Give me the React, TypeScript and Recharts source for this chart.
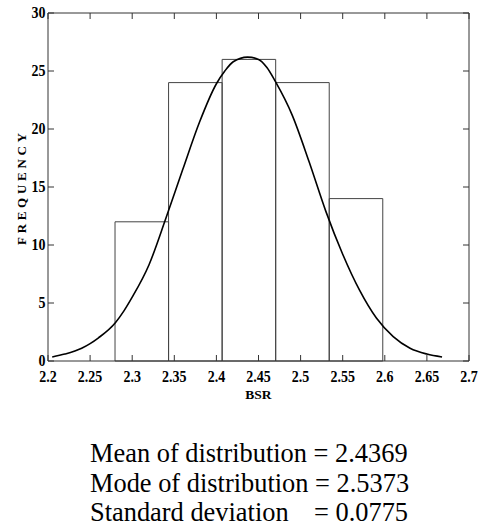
import React from 'react';
import { ComposedChart, Line, XAxis, YAxis, ReferenceArea } from 'recharts';

// Histogram bins (BSR) and frequencies
const binEdges = [2.2796, 2.3432, 2.4068, 2.4704, 2.534, 2.5976];
const frequency = [12, 24, 26, 24, 14];

// Fitted distribution curve
const curveX = [2.205, 2.22, 2.24, 2.25, 2.26, 2.28, 2.29, 2.3, 2.32, 2.34, 2.36, 2.38, 2.4, 2.41, 2.42, 2.437, 2.45, 2.46, 2.47, 2.49, 2.51, 2.53, 2.55, 2.57, 2.59, 2.61, 2.63, 2.65, 2.668];
const curveY = [0.35, 0.6, 1.1, 1.5, 2.0, 3.3, 4.3, 5.5, 8.3, 12.3, 16.5, 20.6, 23.9, 25.0, 25.8, 26.2, 26.0, 25.3, 24.1, 21.2, 17.2, 12.9, 9.2, 6.1, 3.7, 2.1, 1.1, 0.6, 0.35];

const xTicks = [2.2, 2.25, 2.3, 2.35, 2.4, 2.45, 2.5, 2.55, 2.6, 2.65, 2.7];
const yTicks = [0, 5, 10, 15, 20, 25, 30];

const statLabels = ['Mean of distribution', 'Mode of distribution', 'Standard deviation'];
const statValues = ['2.4369', '2.5373', '0.0775'];

const curveData = curveX.map((x, i) => ({ x, y: curveY[i] }));

const serif = '"Liberation Serif", "Times New Roman", serif';
const axisColor = '#333';
const TICK_LEN = 6;
const tickFont = { fontFamily: serif, fontSize: 14, fontWeight: 700 };

const BottomTick = (props: any) => {
  const { x, y, payload } = props;
  return (
    <g>
      <line x1={x} x2={x} y1={y} y2={y - TICK_LEN} stroke={axisColor} strokeWidth={1} />
      <text transform={`translate(${x},${y + 20.5}) scale(1,1.15)`} x={0} y={0} textAnchor="middle" fill="#000"
        style={tickFont}>{String(payload.value)}</text>
    </g>
  );
};

const TopTick = (props: any) => {
  const { x, y } = props;
  return <line x1={x} x2={x} y1={y} y2={y + TICK_LEN} stroke={axisColor} strokeWidth={1} />;
};

const LeftTick = (props: any) => {
  const { x, y, payload } = props;
  return (
    <g>
      <line x1={x} x2={x + TICK_LEN} y1={y} y2={y} stroke={axisColor} strokeWidth={1} />
      <text transform={`translate(${x - 2.5},${y + 5.3}) scale(1,1.15)`} x={0} y={0} textAnchor="end" fill="#000"
        style={tickFont}>{String(payload.value)}</text>
    </g>
  );
};

const RightTick = (props: any) => {
  const { x, y } = props;
  return <line x1={x} x2={x - TICK_LEN} y1={y} y2={y} stroke={axisColor} strokeWidth={1} />;
};

const YLabel = (props: any) => {
  const vb = props.viewBox;
  const cx = vb.x + 21;
  const cy = vb.y + vb.height / 2 + 2;
  return (
    <text x={cx} y={cy} transform={`rotate(-90 ${cx} ${cy})`} textAnchor="middle" dominantBaseline="central"
      textLength={112} lengthAdjust="spacing"
      style={{ fontFamily: serif, fontSize: 13, fontWeight: 700 }} fill="#000">
      FREQUENCY
    </text>
  );
};

const XLabel = (props: any) => {
  const vb = props.viewBox;
  const cx = vb.x + vb.width / 2;
  return (
    <text x={cx} y={vb.y + 37.5} textAnchor="middle"
      style={{ fontFamily: serif, fontSize: 13.5, fontWeight: 700 }} fill="#000">
      BSR
    </text>
  );
};

export default function App() {
  return (
    <div style={{ position: 'absolute', left: 0, top: 0, width: 480, height: 529, background: '#fff' }}>
      <ComposedChart width={480} height={410} data={curveData} margin={{ top: 12, right: 10, left: 0, bottom: 9 }}>
        <XAxis dataKey="x" type="number" domain={[2.2, 2.7]} ticks={xTicks} interval={0}
          tick={<BottomTick />} tickLine={false} tickSize={0} tickMargin={0}
          stroke={axisColor} height={40} allowDataOverflow label={<XLabel />} />
        <XAxis xAxisId="top" orientation="top" dataKey="x" type="number" domain={[2.2, 2.7]} ticks={xTicks}
          interval={0} tick={<TopTick />} tickLine={false} tickSize={0} tickMargin={0}
          stroke={axisColor} height={1} allowDataOverflow />
        <YAxis type="number" domain={[0, 30]} ticks={yTicks} interval={0} tick={<LeftTick />} tickLine={false}
          tickSize={0} tickMargin={0} stroke={axisColor} width={48} allowDataOverflow label={<YLabel />} />
        <YAxis yAxisId="right" orientation="right" type="number" domain={[0, 30]} ticks={yTicks} interval={0}
          tick={<RightTick />} tickLine={false} tickSize={0} tickMargin={0} stroke={axisColor} width={1} allowDataOverflow />
        {frequency.map((f, i) => (
          <ReferenceArea key={i} x1={binEdges[i]} x2={binEdges[i + 1]} y1={0} y2={f}
            fill="none" fillOpacity={0} stroke="#444" strokeWidth={1} />
        ))}
        <Line xAxisId="top" yAxisId="right" dataKey="y" type="monotone" stroke="none" strokeWidth={0} dot={false}
          activeDot={false} legendType="none" isAnimationActive={false} />
        <Line dataKey="y" type="monotone" stroke="#000" strokeWidth={1.6} dot={false} activeDot={false}
          isAnimationActive={false} />
      </ComposedChart>
      <div style={{ position: 'absolute', left: 90, top: 439, fontFamily: serif, fontSize: 26.4, lineHeight: '29.5px', color: '#000', whiteSpace: 'pre' }}>
        {statLabels.map((l, i) => (
          <div key={i}>
            {i === 2 ? (
              <span><span style={{ display: 'inline-block', width: 224 }}>{l}</span>{'= ' + statValues[i]}</span>
            ) : (
              <span>{l + ' = ' + statValues[i]}</span>
            )}
          </div>
        ))}
      </div>
    </div>
  );
}
